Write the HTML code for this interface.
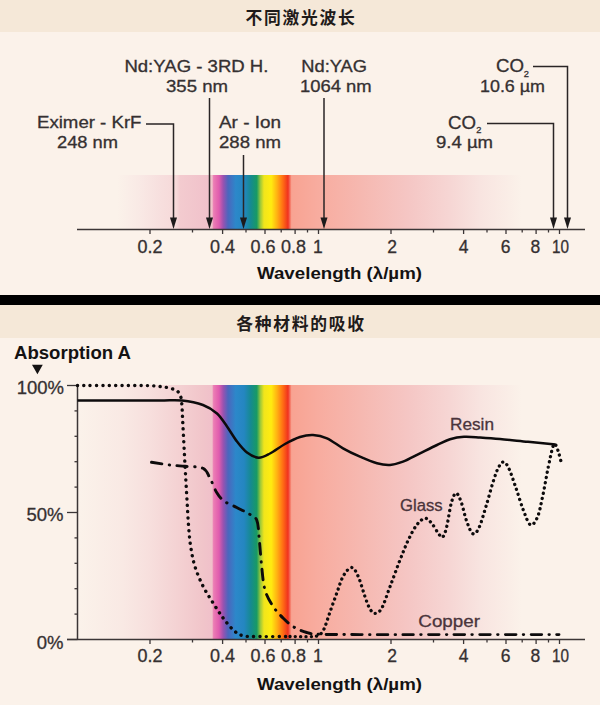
<!DOCTYPE html>
<html lang="zh">
<head>
<meta charset="utf-8">
<title>不同激光波长 / 各种材料的吸收</title>
<style>
html,body{margin:0;padding:0;background:#fbf2ea;}
body{width:600px;height:705px;overflow:hidden;}
svg{display:block;}
.lat{font-family:"Liberation Sans","Noto Sans CJK SC",sans-serif;}
.cjk{font-family:"Liberation Sans","Noto Sans CJK SC",sans-serif;}
.lbl{font-size:16px;fill:#353031;stroke:#353031;stroke-width:0.3px;}
.tick{font-size:17.5px;fill:#353031;stroke:#353031;stroke-width:0.3px;}
.bold{font-weight:bold;fill:#141212;}
</style>
</head>
<body>
<svg width="600" height="705" viewBox="0 0 600 705">
<defs>
  <linearGradient id="spec" gradientUnits="userSpaceOnUse" x1="0" y1="0" x2="600" y2="0">
    <stop offset="0.133" stop-color="#fbf2ea"/>
    <stop offset="0.205" stop-color="#f9e9e4"/>
    <stop offset="0.250" stop-color="#f7dfdd"/>
    <stop offset="0.295" stop-color="#f4d2d3"/>
    <stop offset="0.338" stop-color="#f1c5ca"/>
    <stop offset="0.3535" stop-color="#f0c0ca"/>
    <stop offset="0.356" stop-color="#ec7db4"/>
    <stop offset="0.365" stop-color="#e05cae"/>
    <stop offset="0.372" stop-color="#9a52b0"/>
    <stop offset="0.380" stop-color="#4c66bd"/>
    <stop offset="0.393" stop-color="#2c88ca"/>
    <stop offset="0.407" stop-color="#2486c0"/>
    <stop offset="0.418" stop-color="#158a90"/>
    <stop offset="0.428" stop-color="#189a64"/>
    <stop offset="0.434" stop-color="#9cc93a"/>
    <stop offset="0.440" stop-color="#f1e51c"/>
    <stop offset="0.452" stop-color="#ffec10"/>
    <stop offset="0.462" stop-color="#ffb012"/>
    <stop offset="0.472" stop-color="#ff6a14"/>
    <stop offset="0.480" stop-color="#f0321f"/>
    <stop offset="0.486" stop-color="#f8a392"/>
    <stop offset="0.530" stop-color="#f8ac9f"/>
    <stop offset="0.600" stop-color="#f6b8b0"/>
    <stop offset="0.680" stop-color="#f5c6c4"/>
    <stop offset="0.750" stop-color="#f6d6d4"/>
    <stop offset="0.800" stop-color="#f8e4e0"/>
    <stop offset="0.870" stop-color="#fbf2ea"/>
  </linearGradient>
  <linearGradient id="spec2" gradientUnits="userSpaceOnUse" x1="0" y1="0" x2="600" y2="0">
    <stop offset="0.195" stop-color="#fbf2ea"/>
    <stop offset="0.233" stop-color="#f9e9e5"/>
    <stop offset="0.267" stop-color="#f7dfde"/>
    <stop offset="0.294" stop-color="#f6d9d9"/>
    <stop offset="0.300" stop-color="#f3cbcf"/>
    <stop offset="0.3535" stop-color="#f0c0ca"/>
    <stop offset="0.356" stop-color="#ec7db4"/>
    <stop offset="0.365" stop-color="#e05cae"/>
    <stop offset="0.372" stop-color="#9a52b0"/>
    <stop offset="0.380" stop-color="#4c66bd"/>
    <stop offset="0.393" stop-color="#2c88ca"/>
    <stop offset="0.407" stop-color="#2486c0"/>
    <stop offset="0.418" stop-color="#158a90"/>
    <stop offset="0.428" stop-color="#189a64"/>
    <stop offset="0.434" stop-color="#9cc93a"/>
    <stop offset="0.440" stop-color="#f1e51c"/>
    <stop offset="0.452" stop-color="#ffec10"/>
    <stop offset="0.462" stop-color="#ffb012"/>
    <stop offset="0.472" stop-color="#ff6a14"/>
    <stop offset="0.480" stop-color="#f0321f"/>
    <stop offset="0.486" stop-color="#f8a392"/>
    <stop offset="0.530" stop-color="#f8ac9f"/>
    <stop offset="0.600" stop-color="#f6b8b0"/>
    <stop offset="0.680" stop-color="#f5c6c4"/>
    <stop offset="0.750" stop-color="#f6d6d4"/>
    <stop offset="0.800" stop-color="#f8e4e0"/>
    <stop offset="0.870" stop-color="#fbf2ea"/>
  </linearGradient>
  <marker id="ah" viewBox="0 0 10 12" refX="5" refY="12" markerWidth="10" markerHeight="12" markerUnits="userSpaceOnUse" orient="auto">
    <path d="M0,0 L10,0 L5,12 Z" fill="#1d1a1b"/>
  </marker>
</defs>

<!-- backgrounds -->
<rect x="0" y="0" width="600" height="705" fill="#fbf2ea"/>
<rect x="0" y="0" width="600" height="32" fill="#f5e8d8"/>
<rect x="0" y="295" width="600" height="10" fill="#000"/>
<rect x="0" y="305" width="600" height="33" fill="#f5e8d8"/>

<!-- titles -->
<text class="cjk" x="301" y="23.5" text-anchor="middle" font-size="16.8" font-weight="700" fill="#1f1b1a" letter-spacing="1.7">不同激光波长</text>
<text class="cjk" x="301" y="329.5" text-anchor="middle" font-size="16.8" font-weight="700" fill="#1f1b1a" letter-spacing="1.7">各种材料的吸收</text>

<!-- ============ TOP PANEL ============ -->
<g id="top">
  <rect x="78" y="175" width="450" height="54" fill="url(#spec2)"/>
  <line x1="77" y1="229.5" x2="585" y2="229.5" stroke="#3b3536" stroke-width="1.4"/>
  <line x1="150.0" y1="229.5" x2="150.0" y2="234.0" stroke="#3b3536" stroke-width="1.3"/>
  <line x1="192.5" y1="229.5" x2="192.5" y2="232.5" stroke="#3b3536" stroke-width="1.3"/>
  <line x1="222.6" y1="229.5" x2="222.6" y2="234.0" stroke="#3b3536" stroke-width="1.3"/>
  <line x1="246.0" y1="229.5" x2="246.0" y2="232.5" stroke="#3b3536" stroke-width="1.3"/>
  <line x1="265.0" y1="229.5" x2="265.0" y2="234.0" stroke="#3b3536" stroke-width="1.3"/>
  <line x1="281.2" y1="229.5" x2="281.2" y2="232.5" stroke="#3b3536" stroke-width="1.3"/>
  <line x1="295.1" y1="229.5" x2="295.1" y2="234.0" stroke="#3b3536" stroke-width="1.3"/>
  <line x1="307.5" y1="229.5" x2="307.5" y2="232.5" stroke="#3b3536" stroke-width="1.3"/>
  <line x1="318.5" y1="229.5" x2="318.5" y2="234.0" stroke="#3b3536" stroke-width="1.3"/>
  <line x1="391.0" y1="229.5" x2="391.0" y2="234.0" stroke="#3b3536" stroke-width="1.3"/>
  <line x1="433.5" y1="229.5" x2="433.5" y2="232.5" stroke="#3b3536" stroke-width="1.3"/>
  <line x1="463.6" y1="229.5" x2="463.6" y2="234.0" stroke="#3b3536" stroke-width="1.3"/>
  <line x1="487.0" y1="229.5" x2="487.0" y2="232.5" stroke="#3b3536" stroke-width="1.3"/>
  <line x1="506.0" y1="229.5" x2="506.0" y2="234.0" stroke="#3b3536" stroke-width="1.3"/>
  <line x1="522.2" y1="229.5" x2="522.2" y2="232.5" stroke="#3b3536" stroke-width="1.3"/>
  <line x1="536.1" y1="229.5" x2="536.1" y2="234.0" stroke="#3b3536" stroke-width="1.3"/>
  <line x1="548.5" y1="229.5" x2="548.5" y2="232.5" stroke="#3b3536" stroke-width="1.3"/>
  <line x1="559.5" y1="229.5" x2="559.5" y2="234.0" stroke="#3b3536" stroke-width="1.3"/>
  <text class="lat tick" x="150" y="252.5" text-anchor="middle" textLength="25" lengthAdjust="spacingAndGlyphs">0.2</text>
  <text class="lat tick" x="222.5" y="252.5" text-anchor="middle" textLength="25" lengthAdjust="spacingAndGlyphs">0.4</text>
  <text class="lat tick" x="263" y="252.5" text-anchor="middle" textLength="25" lengthAdjust="spacingAndGlyphs">0.6</text>
  <text class="lat tick" x="293.4" y="252.5" text-anchor="middle" textLength="25" lengthAdjust="spacingAndGlyphs">0.8</text>
  <text class="lat tick" x="317.8" y="252.5" text-anchor="middle">1</text>
  <text class="lat tick" x="392" y="252.5" text-anchor="middle">2</text>
  <text class="lat tick" x="463.5" y="252.5" text-anchor="middle">4</text>
  <text class="lat tick" x="505.6" y="252.5" text-anchor="middle">6</text>
  <text class="lat tick" x="535.4" y="252.5" text-anchor="middle">8</text>
  <text class="lat tick" x="560.4" y="252.5" text-anchor="middle" textLength="17" lengthAdjust="spacingAndGlyphs">10</text>
  <text class="lat bold" x="339.5" y="278.5" text-anchor="middle" font-size="16.5" textLength="165" lengthAdjust="spacingAndGlyphs">Wavelength (λ/µm)</text>
  <!-- arrows -->
  <g fill="none" stroke="#2a2526" stroke-width="1.5">
    <path d="M146,124 H173.5 V219"/>
    <path d="M209.5,98 V219"/>
    <path d="M243.5,155 V219"/>
    <path d="M324,98 V219"/>
    <path d="M487,123.5 H553.5 V219"/>
    <path d="M533,66.5 H567.5 V219"/>
  </g>
  <g fill="#1d1a1b">
    <path d="M170.0,217.5 h7 l-3.5,11.5 z"/>
    <path d="M206.0,217.5 h7 l-3.5,11.5 z"/>
    <path d="M240.0,217.5 h7 l-3.5,11.5 z"/>
    <path d="M320.5,217.5 h7 l-3.5,11.5 z"/>
    <path d="M550.0,217.5 h7 l-3.5,11.5 z"/>
    <path d="M564.0,217.5 h7 l-3.5,11.5 z"/>
  </g>
  <!-- labels -->
  <text class="lat lbl" x="124.4" y="71.5" textLength="144" lengthAdjust="spacingAndGlyphs">Nd:YAG - 3RD H.</text>
  <text class="lat lbl" x="166" y="91.5" textLength="62" lengthAdjust="spacingAndGlyphs">355 nm</text>
  <text class="lat lbl" x="37" y="127.5" textLength="104.5" lengthAdjust="spacingAndGlyphs">Eximer - KrF</text>
  <text class="lat lbl" x="57" y="148" textLength="61" lengthAdjust="spacingAndGlyphs">248 nm</text>
  <text class="lat lbl" x="219" y="127.5" textLength="62" lengthAdjust="spacingAndGlyphs">Ar - Ion</text>
  <text class="lat lbl" x="219" y="148" textLength="62" lengthAdjust="spacingAndGlyphs">288 nm</text>
  <text class="lat lbl" x="301.3" y="71.5" textLength="65.7" lengthAdjust="spacingAndGlyphs">Nd:YAG</text>
  <text class="lat lbl" x="300" y="91.5" textLength="71.7" lengthAdjust="spacingAndGlyphs">1064 nm</text>
  <text class="lat lbl" style="font-size:17.5px" x="496" y="71.5" textLength="28" lengthAdjust="spacingAndGlyphs">CO</text><text class="lat lbl" style="font-size:9.3px" x="523.8" y="76.7">2</text>
  <text class="lat lbl" x="480" y="91.5" textLength="65" lengthAdjust="spacingAndGlyphs">10.6 µm</text>
  <text class="lat lbl" style="font-size:17.5px" x="448" y="128.7" textLength="28" lengthAdjust="spacingAndGlyphs">CO</text><text class="lat lbl" style="font-size:9.3px" x="476.3" y="132.7">2</text>
  <text class="lat lbl" x="436" y="148" textLength="57" lengthAdjust="spacingAndGlyphs">9.4 µm</text>
</g>

<!-- ============ BOTTOM PANEL ============ -->
<g id="bottom">
  <rect x="78" y="385" width="450" height="254.5" fill="url(#spec)"/>
  <line x1="77.5" y1="385" x2="77.5" y2="640" stroke="#3b3536" stroke-width="1.5"/>
  <line x1="67" y1="639.5" x2="585" y2="639.5" stroke="#3b3536" stroke-width="1.5"/>
  <line x1="67.0" y1="385.5" x2="77.5" y2="385.5" stroke="#3b3536" stroke-width="1.3"/>
  <line x1="74.5" y1="410.9" x2="77.5" y2="410.9" stroke="#3b3536" stroke-width="1.3"/>
  <line x1="74.5" y1="436.3" x2="77.5" y2="436.3" stroke="#3b3536" stroke-width="1.3"/>
  <line x1="74.5" y1="461.7" x2="77.5" y2="461.7" stroke="#3b3536" stroke-width="1.3"/>
  <line x1="74.5" y1="487.1" x2="77.5" y2="487.1" stroke="#3b3536" stroke-width="1.3"/>
  <line x1="67.0" y1="512.5" x2="77.5" y2="512.5" stroke="#3b3536" stroke-width="1.3"/>
  <line x1="74.5" y1="537.9" x2="77.5" y2="537.9" stroke="#3b3536" stroke-width="1.3"/>
  <line x1="74.5" y1="563.3" x2="77.5" y2="563.3" stroke="#3b3536" stroke-width="1.3"/>
  <line x1="74.5" y1="588.7" x2="77.5" y2="588.7" stroke="#3b3536" stroke-width="1.3"/>
  <line x1="74.5" y1="614.1" x2="77.5" y2="614.1" stroke="#3b3536" stroke-width="1.3"/>
  <line x1="67.0" y1="639.5" x2="77.5" y2="639.5" stroke="#3b3536" stroke-width="1.3"/>
  <line x1="150.0" y1="639.5" x2="150.0" y2="644.0" stroke="#3b3536" stroke-width="1.3"/>
  <line x1="192.5" y1="639.5" x2="192.5" y2="642.5" stroke="#3b3536" stroke-width="1.3"/>
  <line x1="222.6" y1="639.5" x2="222.6" y2="644.0" stroke="#3b3536" stroke-width="1.3"/>
  <line x1="246.0" y1="639.5" x2="246.0" y2="642.5" stroke="#3b3536" stroke-width="1.3"/>
  <line x1="265.0" y1="639.5" x2="265.0" y2="644.0" stroke="#3b3536" stroke-width="1.3"/>
  <line x1="281.2" y1="639.5" x2="281.2" y2="642.5" stroke="#3b3536" stroke-width="1.3"/>
  <line x1="295.1" y1="639.5" x2="295.1" y2="644.0" stroke="#3b3536" stroke-width="1.3"/>
  <line x1="307.5" y1="639.5" x2="307.5" y2="642.5" stroke="#3b3536" stroke-width="1.3"/>
  <line x1="318.5" y1="639.5" x2="318.5" y2="644.0" stroke="#3b3536" stroke-width="1.3"/>
  <line x1="391.0" y1="639.5" x2="391.0" y2="644.0" stroke="#3b3536" stroke-width="1.3"/>
  <line x1="433.5" y1="639.5" x2="433.5" y2="642.5" stroke="#3b3536" stroke-width="1.3"/>
  <line x1="463.6" y1="639.5" x2="463.6" y2="644.0" stroke="#3b3536" stroke-width="1.3"/>
  <line x1="487.0" y1="639.5" x2="487.0" y2="642.5" stroke="#3b3536" stroke-width="1.3"/>
  <line x1="506.0" y1="639.5" x2="506.0" y2="644.0" stroke="#3b3536" stroke-width="1.3"/>
  <line x1="522.2" y1="639.5" x2="522.2" y2="642.5" stroke="#3b3536" stroke-width="1.3"/>
  <line x1="536.1" y1="639.5" x2="536.1" y2="644.0" stroke="#3b3536" stroke-width="1.3"/>
  <line x1="548.5" y1="639.5" x2="548.5" y2="642.5" stroke="#3b3536" stroke-width="1.3"/>
  <line x1="559.5" y1="639.5" x2="559.5" y2="644.0" stroke="#3b3536" stroke-width="1.3"/>
  <text class="lat tick" x="150" y="662.4" text-anchor="middle" textLength="25" lengthAdjust="spacingAndGlyphs">0.2</text>
  <text class="lat tick" x="222.5" y="662.4" text-anchor="middle" textLength="25" lengthAdjust="spacingAndGlyphs">0.4</text>
  <text class="lat tick" x="263" y="662.4" text-anchor="middle" textLength="25" lengthAdjust="spacingAndGlyphs">0.6</text>
  <text class="lat tick" x="293.4" y="662.4" text-anchor="middle" textLength="25" lengthAdjust="spacingAndGlyphs">0.8</text>
  <text class="lat tick" x="317.8" y="662.4" text-anchor="middle">1</text>
  <text class="lat tick" x="392" y="662.4" text-anchor="middle">2</text>
  <text class="lat tick" x="463.5" y="662.4" text-anchor="middle">4</text>
  <text class="lat tick" x="505.6" y="662.4" text-anchor="middle">6</text>
  <text class="lat tick" x="535.4" y="662.4" text-anchor="middle">8</text>
  <text class="lat tick" x="560.4" y="662.4" text-anchor="middle" textLength="17" lengthAdjust="spacingAndGlyphs">10</text>
  <text class="lat bold" x="339.5" y="689.5" text-anchor="middle" font-size="16.5" textLength="165" lengthAdjust="spacingAndGlyphs">Wavelength (λ/µm)</text>
  <text class="lat bold" x="14" y="359" font-size="17.5" textLength="117" lengthAdjust="spacingAndGlyphs">Absorption A</text>
  <path d="M32,364.7 h10.8 l-5.4,9.5 z" fill="#141212"/>
  <text style="font-size:18.5px" class="lat lbl" x="64" y="394" text-anchor="end">100%</text>
  <text style="font-size:18.5px" class="lat lbl" x="63.5" y="521.3" text-anchor="end">50%</text>
  <text style="font-size:18.5px" class="lat lbl" x="63.5" y="648.8" text-anchor="end">0%</text>
  <!-- curves -->
  <path id="resin" d="M77.5,400.5 C84.6,400.5 106.2,400.5 120.0,400.5 C133.8,400.5 149.7,400.5 160.0,400.5 C170.3,400.5 174.8,399.8 182.0,400.5 C189.2,401.2 197.2,402.8 203.0,405.0 C208.8,407.2 213.0,409.9 217.0,413.5 C221.0,417.1 223.7,421.8 227.0,426.5 C230.3,431.2 233.7,437.2 237.0,441.5 C240.3,445.8 243.4,449.8 247.0,452.5 C250.6,455.2 254.7,457.5 258.5,457.7 C262.3,457.9 265.6,455.8 270.0,453.5 C274.4,451.2 280.0,446.8 285.0,444.0 C290.0,441.2 295.3,438.5 300.0,437.0 C304.7,435.5 308.5,434.8 313.0,435.0 C317.5,435.2 322.0,436.1 327.0,438.3 C332.0,440.5 337.5,445.2 343.0,448.3 C348.5,451.4 354.3,454.2 360.0,456.7 C365.7,459.2 372.0,461.9 377.0,463.3 C382.0,464.7 385.7,465.3 390.0,465.0 C394.3,464.7 398.0,463.6 403.0,461.7 C408.0,459.8 414.3,456.1 420.0,453.3 C425.7,450.5 432.0,447.3 437.0,445.0 C442.0,442.7 445.5,440.7 450.0,439.3 C454.5,437.9 459.0,437.1 464.0,436.8 C469.0,436.5 474.0,437.1 480.0,437.5 C486.0,437.9 492.0,438.3 500.0,439.0 C508.0,439.7 518.8,440.9 528.0,441.8 C537.2,442.7 550.9,444.1 555.5,444.5" fill="none" stroke="#0d0b0c" stroke-width="2.5" stroke-linecap="butt" stroke-linejoin="round"/>
  <path id="glass" d="M77.5,385.5 C84.6,385.5 108.2,385.5 120.0,385.5 C131.8,385.5 141.8,385.5 148.0,385.6 C154.2,385.7 154.7,386.1 157.4,386.3 C160.1,386.5 161.8,386.7 164.0,387.0 C166.2,387.3 168.5,387.7 170.6,388.3 C172.7,388.9 174.9,389.5 176.4,390.5 C177.9,391.5 179.0,392.6 179.8,394.2 C180.6,395.8 181.0,397.4 181.4,400.0 C181.8,402.6 181.9,405.8 182.2,410.0 C182.4,414.2 182.4,415.8 182.9,425.0 C183.4,434.2 184.3,452.5 185.0,465.0 C185.7,477.5 186.4,490.0 187.0,500.0 C187.6,510.0 187.9,517.2 188.5,525.0 C189.1,532.8 189.6,539.8 190.7,546.7 C191.8,553.7 192.9,560.0 195.0,566.7 C197.1,573.4 200.2,580.6 203.3,586.7 C206.4,592.8 210.0,598.0 213.3,603.3 C216.6,608.6 220.0,613.8 223.3,618.3 C226.6,622.8 230.2,627.1 233.3,630.0 C236.4,632.9 238.4,634.4 242.0,635.5 C245.6,636.6 247.0,636.3 255.0,636.5 C263.0,636.7 284.2,636.5 290.0,636.5" fill="none" stroke="#0d0b0c" stroke-width="3.4" stroke-linecap="round" stroke-dasharray="0.1 6.25"/>
  <path id="glass2" d="M290.0,636.5 C293.7,636.5 307.2,636.8 312.0,636.5 C316.8,636.2 317.0,636.2 319.0,635.0 C321.0,633.8 322.2,632.8 324.0,629.0 C325.8,625.2 327.9,618.0 330.0,612.0 C332.1,606.0 334.5,599.3 336.7,593.3 C338.9,587.3 340.8,580.3 343.3,576.0 C345.8,571.7 349.2,567.4 351.7,567.5 C354.2,567.6 356.1,571.8 358.3,576.7 C360.5,581.6 363.1,591.3 365.0,596.7 C366.9,602.1 368.3,606.2 370.0,609.0 C371.7,611.8 373.1,613.4 375.0,613.3 C376.9,613.2 379.2,612.7 381.7,608.3 C384.2,603.9 386.9,594.8 390.0,586.7 C393.1,578.7 396.9,567.8 400.0,560.0 C403.1,552.2 405.5,545.8 408.3,540.0 C411.1,534.2 413.9,528.6 416.7,525.0 C419.5,521.4 422.5,518.6 425.0,518.3 C427.5,518.0 429.5,520.8 431.7,523.3 C433.9,525.8 436.5,531.0 438.3,533.3 C440.1,535.6 441.3,538.1 442.7,537.0 C444.1,535.9 445.3,532.4 446.7,526.7 C448.1,521.0 449.8,508.6 451.3,503.0 C452.9,497.4 454.4,493.4 456.0,493.2 C457.6,492.9 459.2,496.9 461.0,501.5 C462.8,506.1 464.6,515.6 466.6,521.0 C468.6,526.4 470.7,532.6 472.8,533.7 C474.9,534.8 476.8,532.2 479.0,527.7 C481.2,523.2 483.6,514.1 486.0,506.4 C488.4,498.7 491.1,488.1 493.2,481.6 C495.3,475.1 496.7,470.7 498.5,467.4 C500.3,464.1 502.0,461.7 503.8,462.0 C505.6,462.3 507.0,464.6 509.1,469.0 C511.2,473.4 513.8,481.9 516.2,488.7 C518.6,495.5 520.9,504.0 523.3,510.0 C525.7,516.0 528.0,523.6 530.4,524.8 C532.8,526.0 535.4,521.9 537.5,517.0 C539.6,512.1 541.0,504.0 542.8,495.7 C544.6,487.4 546.5,475.5 548.2,467.4 C549.9,459.3 551.6,450.9 552.8,447.0 C554.0,443.1 554.3,443.3 555.3,444.3 C556.3,445.3 557.8,449.9 558.8,453.2 C559.8,456.4 561.1,462.0 561.6,463.8" fill="none" stroke="#0d0b0c" stroke-width="3.3" stroke-linecap="round" stroke-dasharray="0.1 5.2"/>
  <path id="copper" d="M151.5,462.3 C154.6,462.8 164.4,464.3 170.0,465.0 C175.6,465.7 179.5,465.8 185.0,466.3 C190.5,466.9 198.8,466.3 203.0,468.3 C207.2,470.3 207.7,474.3 210.0,478.3 C212.3,482.3 214.4,488.7 216.7,492.5 C219.0,496.3 220.7,498.5 224.0,501.0 C227.3,503.5 232.7,505.4 236.7,507.5 C240.7,509.6 244.7,511.2 248.0,513.3 C251.3,515.4 254.8,515.5 256.7,520.0 C258.6,524.5 258.5,532.2 259.3,540.0 C260.1,547.8 260.8,558.4 261.7,566.7 C262.6,575.0 263.1,583.3 265.0,590.0 C266.9,596.7 270.2,602.0 273.3,606.7 C276.4,611.4 280.0,615.0 283.3,618.3 C286.6,621.6 289.4,624.3 293.3,626.7 C297.2,629.1 302.2,631.2 306.7,632.5 C311.1,633.8 311.1,633.9 320.0,634.3 C328.9,634.6 338.3,634.5 360.0,634.6 C381.7,634.7 416.8,634.6 450.0,634.6 C483.2,634.6 540.8,634.6 559.0,634.6" fill="none" stroke="#0d0b0c" stroke-width="2.9" stroke-linecap="round" stroke-dasharray="10.5 7.3 0.5 7.3"/>
  <text style="font-size:17px;fill:#4a343b;stroke:#4a343b" class="lat lbl" x="450" y="430" textLength="44" lengthAdjust="spacingAndGlyphs">Resin</text>
  <text style="font-size:17px;fill:#4a343b;stroke:#4a343b" class="lat lbl" x="400" y="510.7" textLength="42.7" lengthAdjust="spacingAndGlyphs">Glass</text>
  <text style="font-size:17px;fill:#4a343b;stroke:#4a343b" class="lat lbl" x="418.3" y="627.3" textLength="61.7" lengthAdjust="spacingAndGlyphs">Copper</text>
</g>
</svg>
</body>
</html>
